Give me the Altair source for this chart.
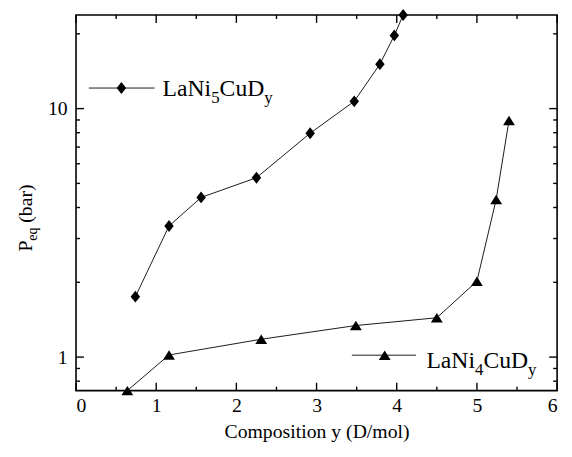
import altair as alt
import pandas as pd

# ---- data ----
x_lani5 = [0.74, 1.16, 1.56, 2.25, 2.92, 3.47, 3.79, 3.97, 4.08]
p_lani5 = [1.75, 3.37, 4.39, 5.27, 7.96, 10.7, 15.1, 19.7, 23.8]
x_lani4 = [0.64, 1.16, 2.31, 3.49, 4.50, 5.00, 5.24, 5.40]
p_lani4 = [0.733, 1.02, 1.18, 1.34, 1.44, 2.02, 4.31, 8.96]

x_major = [0, 1, 2, 3, 4, 5, 6]
x_minor = [0.5, 1.5, 2.5, 3.5, 4.5, 5.5]
y_major = [1, 10]
y_minor = [0.8, 0.9, 2, 3, 4, 5, 6, 7, 8, 9, 20]

x_domain = [0, 6]
y_domain = [0.733, 23.8]

# legend entries (data coordinates)
leg5 = {"x0": 0.16, "x1": 0.98, "xm": 0.566, "y": 12.1, "xt": 1.08, "yt": 11.26, "sub": "5"}
leg4 = {"x0": 3.44, "x1": 4.24, "xm": 3.85, "y": 1.018, "xt": 4.37, "yt": 0.904, "sub": "4"}

W, H = 488, 381
FONT = "Liberation Serif"
DIAMOND = "M0,-1L0.8,0L0,1L-0.8,0Z"
TRIANGLE = "M0,-0.8L1,0.8L-1,0.8Z"

xs = alt.Scale(domain=x_domain, nice=False, zero=False)
ys = alt.Scale(type="log", domain=y_domain, nice=False)

xaxis = alt.Axis(values=x_major, format="d", labelPadding=5,
                 title="Composition y (D/mol)", titlePadding=7)
yaxis = alt.Axis(values=y_major, format="~g", labelPadding=9, title=None)


def X(field="x"):
    return alt.X(f"{field}:Q", scale=xs, axis=xaxis)


def Y(field="y"):
    return alt.Y(f"{field}:Q", scale=ys, axis=yaxis)


layers = []

# series
for xv, pv, shape in [(x_lani5, p_lani5, DIAMOND), (x_lani4, p_lani4, TRIANGLE)]:
    df = pd.DataFrame({"x": xv, "y": pv})
    layers.append(alt.Chart(df).mark_line(color="black", strokeWidth=0.9).encode(x=X(), y=Y()))
    layers.append(alt.Chart(df).mark_point(shape=shape, filled=True, size=144, color="black",
                                           opacity=1).encode(x=X(), y=Y()))

# inward ticks
for vals, ln in [(x_major, 8), (x_minor, 4)]:
    d = pd.DataFrame({"x": vals})
    layers.append(alt.Chart(d).mark_rule(color="black", strokeWidth=1.4).encode(
        x=X(), y=alt.value(H), y2=alt.value(H - ln)))
    layers.append(alt.Chart(d).mark_rule(color="black", strokeWidth=1.4).encode(
        x=X(), y=alt.value(0), y2=alt.value(ln)))
for vals, ln in [(y_major, 8), (y_minor, 4)]:
    d = pd.DataFrame({"y": vals})
    layers.append(alt.Chart(d).mark_rule(color="black", strokeWidth=1.4).encode(
        y=Y(), x=alt.value(0), x2=alt.value(ln)))
    layers.append(alt.Chart(d).mark_rule(color="black", strokeWidth=1.4).encode(
        y=Y(), x=alt.value(W), x2=alt.value(W - ln)))

# legends
FS, SS = 24, 17
w_lani = 2.055 * FS
w_sub = 0.5 * SS
w_cud = 1.889 * FS
for leg, shape in [(leg5, DIAMOND), (leg4, TRIANGLE)]:
    d = pd.DataFrame([leg])
    layers.append(alt.Chart(d).mark_rule(color="black", strokeWidth=0.9).encode(
        x=X("x0"), x2="x1:Q", y=Y("y")))
    layers.append(alt.Chart(d).mark_point(shape=shape, filled=True, size=144, color="black",
                                          opacity=1).encode(x=X("xm"), y=Y("y")))
    for txt, dx, dy, fs in [("LaNi", 0, 0, FS), (leg["sub"], w_lani, 7, SS),
                            ("CuD", w_lani + w_sub, 0, FS), ("y", w_lani + w_sub + w_cud, 7, SS)]:
        layers.append(alt.Chart(d).mark_text(text=txt, font=FONT, fontSize=fs, color="black",
                                             align="left", baseline="alphabetic", dx=dx, dy=dy)
                      .encode(x=X("xt"), y=Y("yt")))

# y-axis title with subscript
for txt, px, py, fs in [("P", -45, 240, 20), ("eq", -40, 240 - 11.1, 14),
                        ("(bar)", -45, 240 - 11.1 - 13.2 - 5, 20)]:
    d = pd.DataFrame({"t": [txt]})
    layers.append(alt.Chart(d).mark_text(font=FONT, fontSize=fs, color="black", angle=270,
                                         align="left", baseline="alphabetic")
                  .encode(text="t:N", x=alt.value(px), y=alt.value(py)))

chart = alt.layer(*layers).properties(
    width=W, height=H,
    background="white",
    autosize=alt.AutoSizeParams(type="none"),
    padding={"left": 69, "top": 4, "right": 7, "bottom": 50},
).configure_view(
    stroke="black", strokeWidth=1.6
).configure_axis(
    grid=False, ticks=False, tickSize=0, domain=False,
    labelFont=FONT, labelFontSize=20, labelColor="black",
    titleFont=FONT, titleFontSize=20, titleFontWeight="normal", titleColor="black",
)

chart.save("out.html", embed_options={"renderer": "svg", "actions": False})
